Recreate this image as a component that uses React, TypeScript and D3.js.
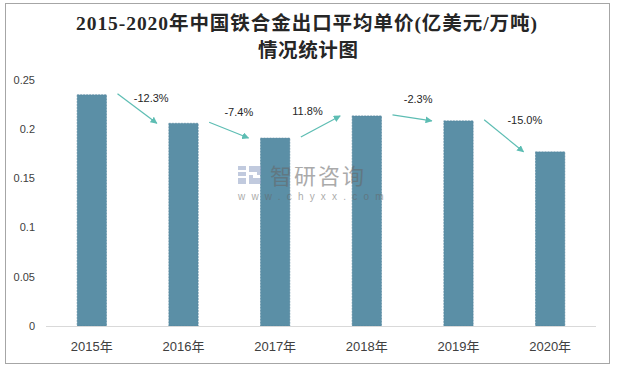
import * as d3 from 'd3'

// chart values
const years = ['2015年', '2016年', '2017年', '2018年', '2019年', '2020年']
const prices = [0.235, 0.206, 0.191, 0.2135, 0.2085, 0.177]
const changes = ['-12.3%', '-7.4%', '11.8%', '-2.3%', '-15.0%']
const yTicks = [0, 0.05, 0.1, 0.15, 0.2, 0.25]
const yTickLabels = ['0', '0.05', '0.1', '0.15', '0.2', '0.25']

// manual label nudges (dx, dy from arrow midpoint)
const labelNudge: [number, number][] = [
  [14, -10],
  [10, -18],
  [-13, -15],
  [6, -19],
  [21, -16],
]

const W = 617
const H = 368
const margin = { top: 80, right: 21, bottom: 42, left: 46 }

const sansFont = '"Liberation Sans", "Noto Sans CJK SC", sans-serif'
const titleFont = '"Liberation Serif", "Noto Sans CJK SC", serif'

export default function App() {
  const x = d3.scaleBand<string>()
    .domain(years)
    .range([margin.left, W - margin.right])
    .paddingInner(0.68)
    .paddingOuter(0.34)

  const y = d3.scaleLinear()
    .domain([0, 0.25])
    .range([H - margin.bottom, margin.top])

  const bw = x.bandwidth()
  const arrowColor = '#5dbdb3'

  const arrows = changes.map((c, i) => {
    const x1 = (x(years[i]) as number) + bw + 11
    const y1 = y(prices[i]) - 1
    const x2 = (x(years[i + 1]) as number) - 12
    const y2 = y(prices[i + 1])
    const mx = (x1 + x2) / 2
    const my = (y1 + y2) / 2
    return { c, x1, y1, x2, y2, lx: mx + labelNudge[i][0], ly: my + labelNudge[i][1] }
  })

  return (
    <svg width={W} height={H} style={{ position: 'absolute', left: 0, top: 0, background: '#fff' }}>
      <defs>
        <marker id="arrowhead" viewBox="0 0 10 10" refX="9" refY="5"
          markerWidth="7" markerHeight="7" orient="auto" markerUnits="userSpaceOnUse">
          <path d="M0,0 L10,5 L0,10 z" fill={arrowColor} />
        </marker>
      </defs>

      {/* outer frame */}
      <rect x={5.5} y={3.5} width={604} height={360} fill="#fff" stroke="#a6a6a6" strokeWidth={1} />

      {/* title */}
      <text x={76} y={30} fontSize={19.5} fontWeight="bold" textLength={461} lengthAdjust="spacing"
        fontFamily={titleFont} fill="#262626">
        2015-2020年中国铁合金出口平均单价(亿美元/万吨)
      </text>
      <text x={258} y={57} fontSize={19.5} fontWeight="bold" textLength={100} lengthAdjust="spacing"
        fontFamily={titleFont} fill="#262626">
        情况统计图
      </text>

      {/* y tick labels */}
      {yTicks.map((t, i) => (
        <text key={t} x={35} y={y(t)} dy="0.35em" textAnchor="end" fontSize={11}
          fontFamily={sansFont} fill="#404040">{yTickLabels[i]}</text>
      ))}

      {/* bars */}
      {years.map((yr, i) => (
        <rect key={yr} x={x(yr)} y={y(prices[i])} width={bw} height={y(0) - y(prices[i])}
          fill="#5b8fa6" stroke="#4f819a" strokeWidth={0.6} strokeDasharray="2,1" />
      ))}

      {/* watermark */}
      <g opacity={0.55}>
        <rect x={238} y={166} width={8} height={4} fill="#8f9fc4" />
        <rect x={238} y={172} width={8} height={4} fill="#8f9fc4" />
        <rect x={238} y={178} width={8} height={6} fill="#8f9fc4" />
        <path d="M249,166 h12 v9 h-8 v3 h8 v6 h-12 v-9 h8 v-3 h-8 z" fill="#8f9fc4" />
        <text x={270} y={184} fontSize={22} fontFamily='"Noto Sans CJK SC", sans-serif'
          fill="#666" letterSpacing={2}>智研咨询</text>
        <text x={238} y={200} fontSize={10} fontFamily={sansFont} fill="#666"
          letterSpacing={6.2}>www.chyxx.com</text>
      </g>

      {/* x axis */}
      <line x1={margin.left} x2={W - margin.right} y1={y(0) + 0.5} y2={y(0) + 0.5}
        stroke="#d9d9d9" strokeWidth={1} />
      {years.map(yr => (
        <text key={yr} x={(x(yr) as number) + bw / 2} y={351} textAnchor="middle" fontSize={13}
          fontFamily={sansFont} fill="#404040">{yr}</text>
      ))}

      {/* change arrows */}
      {arrows.map(a => (
        <g key={a.c}>
          <line x1={a.x1} y1={a.y1} x2={a.x2} y2={a.y2} stroke={arrowColor} strokeWidth={1.2}
            markerEnd="url(#arrowhead)" />
          <text x={a.lx} y={a.ly} dy="0.35em" textAnchor="middle" fontSize={11}
            fontFamily={sansFont} fill="#262626">{a.c}</text>
        </g>
      ))}
    </svg>
  )
}
